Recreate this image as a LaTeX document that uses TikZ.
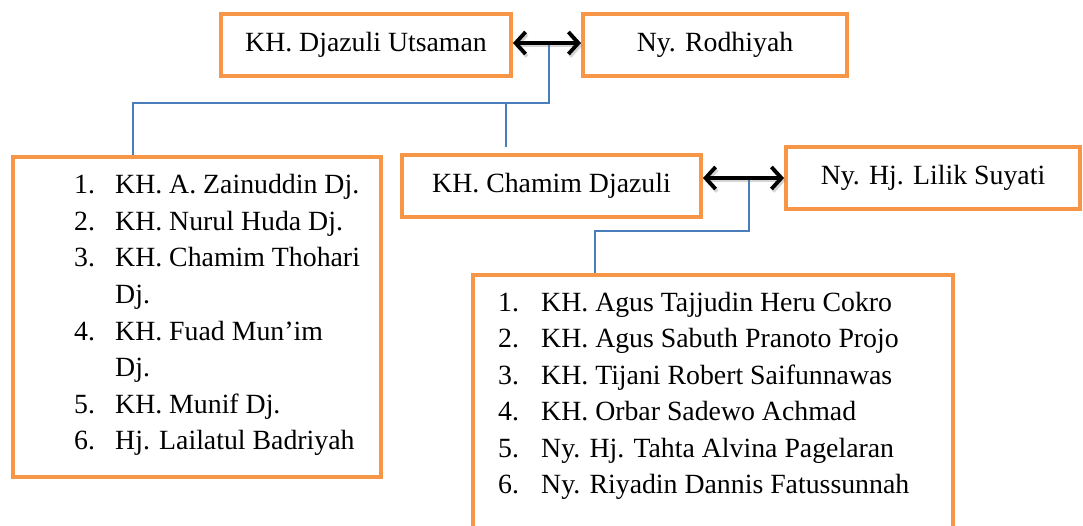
\documentclass[tikz,border=0pt]{standalone}
\usepackage{fontspec}
\setmainfont{Liberation Serif}
\usetikzlibrary{arrows.meta,calc}
\definecolor{boxorange}{HTML}{F79646}
\definecolor{linkblue}{HTML}{4A7EBB}
\tikzset{
  famBox/.style={draw=boxorange, line width=4pt, fill=white, rectangle, inner sep=0pt,
    font=\fontsize{27.8}{36.5}\selectfont},
  famLine/.style={draw=linkblue, line width=1.3pt},
  marry/.style={line width=3.8pt, {Straight Barb[length=10pt,width=22pt]}-{Straight Barb[length=10pt,width=22pt]}},
  marryShadow/.style={marry, draw=black!55, opacity=0.3},
  listTxt/.style={anchor=base west, inner sep=0pt, font=\fontsize{27.8}{36.5}\selectfont}
}
\begin{document}
\begin{tikzpicture}[x=1pt,y=-1pt]
\useasboundingbox (0,0) rectangle (1083,526);
\clip (0,0) rectangle (1083,526);
\fill[white] (0,0) rectangle (1083,526);

% boxes
\node[famBox, minimum width=290pt, minimum height=62pt] (b1) at (366,45) {KH. Djazuli Utsaman};
\node[famBox, minimum width=264pt, minimum height=62pt] (b2) at (715,45) {Ny. Rodhiyah};
\node[famBox, minimum width=368pt, minimum height=320pt] (b3) at (197,317) {};
\node[famBox, minimum width=299pt, minimum height=62pt] (b4) at (551.5,186) {KH. Chamim Djazuli};
\node[famBox, minimum width=294pt, minimum height=62pt] (b5) at (933,178) {Ny. Hj. Lilik Suyati};
\node[famBox, minimum width=480pt, minimum height=270pt] (b6) at (713,410) {};

% connector lines
\coordinate (m1) at (549,43);
\coordinate (j1) at (133,103);
\coordinate (j2) at (506,103);
\coordinate (e2) at (506,147);
\draw[famLine] (m1) |- (j1) -- (j1 |- b3.north);
\draw[famLine] (j2) -- (e2);

\coordinate (m2) at (749,178);
\coordinate (j3) at (595,231);
\draw[famLine] (m2) |- (j3) -- (j3 |- b6.north);

% marriage arrows
\coordinate (a1s) at (b1.east |- m1);
\coordinate (a1e) at (b2.west |- m1);
\coordinate (a2s) at (b4.east |- b5.west);
\coordinate (a2e) at (b5.west);
\draw[marryShadow] ($(a1s)+(1.5,2.5)$) -- ($(a1e)+(1.5,2.5)$);
\draw[marryShadow] ($(a2s)+(1.5,2.5)$) -- ($(a2e)+(1.5,2.5)$);
\draw[marry] (a1s) -- (a1e);
\draw[marry] (a2s) -- (a2e);

% left list
\node[listTxt] (ln1) at (74,194) {1.};
\node[listTxt] (lt1) at (115,194) {KH. A. Zainuddin Dj.};
\node[listTxt] (ln2) at (74,230.5) {2.};
\node[listTxt] (lt2) at (115,230.5) {KH. Nurul Huda Dj.};
\node[listTxt] (ln3) at (74,267) {3.};
\node[listTxt] (lt3) at (115,267) {KH. Chamim Thohari};
\node[listTxt] (lt3b) at (115,303.5) {Dj.};
\node[listTxt] (ln4) at (74,340) {4.};
\node[listTxt] (lt4) at (115,340) {KH. Fuad Mun’im};
\node[listTxt] (lt4b) at (115,376.5) {Dj.};
\node[listTxt] (ln5) at (74,413) {5.};
\node[listTxt] (lt5) at (115,413) {KH. Munif Dj.};
\node[listTxt] (ln6) at (74,449.5) {6.};
\node[listTxt] (lt6) at (115,449.5) {Hj. Lailatul Badriyah};

% right list
\node[listTxt] (rn1) at (498,311) {1.};
\node[listTxt] (rt1) at (541,311) {KH. Agus Tajjudin Heru Cokro};
\node[listTxt] (rn2) at (498,347.5) {2.};
\node[listTxt] (rt2) at (541,347.5) {KH. Agus Sabuth Pranoto Projo};
\node[listTxt] (rn3) at (498,384) {3.};
\node[listTxt] (rt3) at (541,384) {KH. Tijani Robert Saifunnawas};
\node[listTxt] (rn4) at (498,420.5) {4.};
\node[listTxt] (rt4) at (541,420.5) {KH. Orbar Sadewo Achmad};
\node[listTxt] (rn5) at (498,457) {5.};
\node[listTxt] (rt5) at (541,457) {Ny. Hj. Tahta Alvina Pagelaran};
\node[listTxt] (rn6) at (498,493.5) {6.};
\node[listTxt] (rt6) at (541,493.5) {Ny. Riyadin Dannis Fatussunnah};
\end{tikzpicture}
\end{document}
